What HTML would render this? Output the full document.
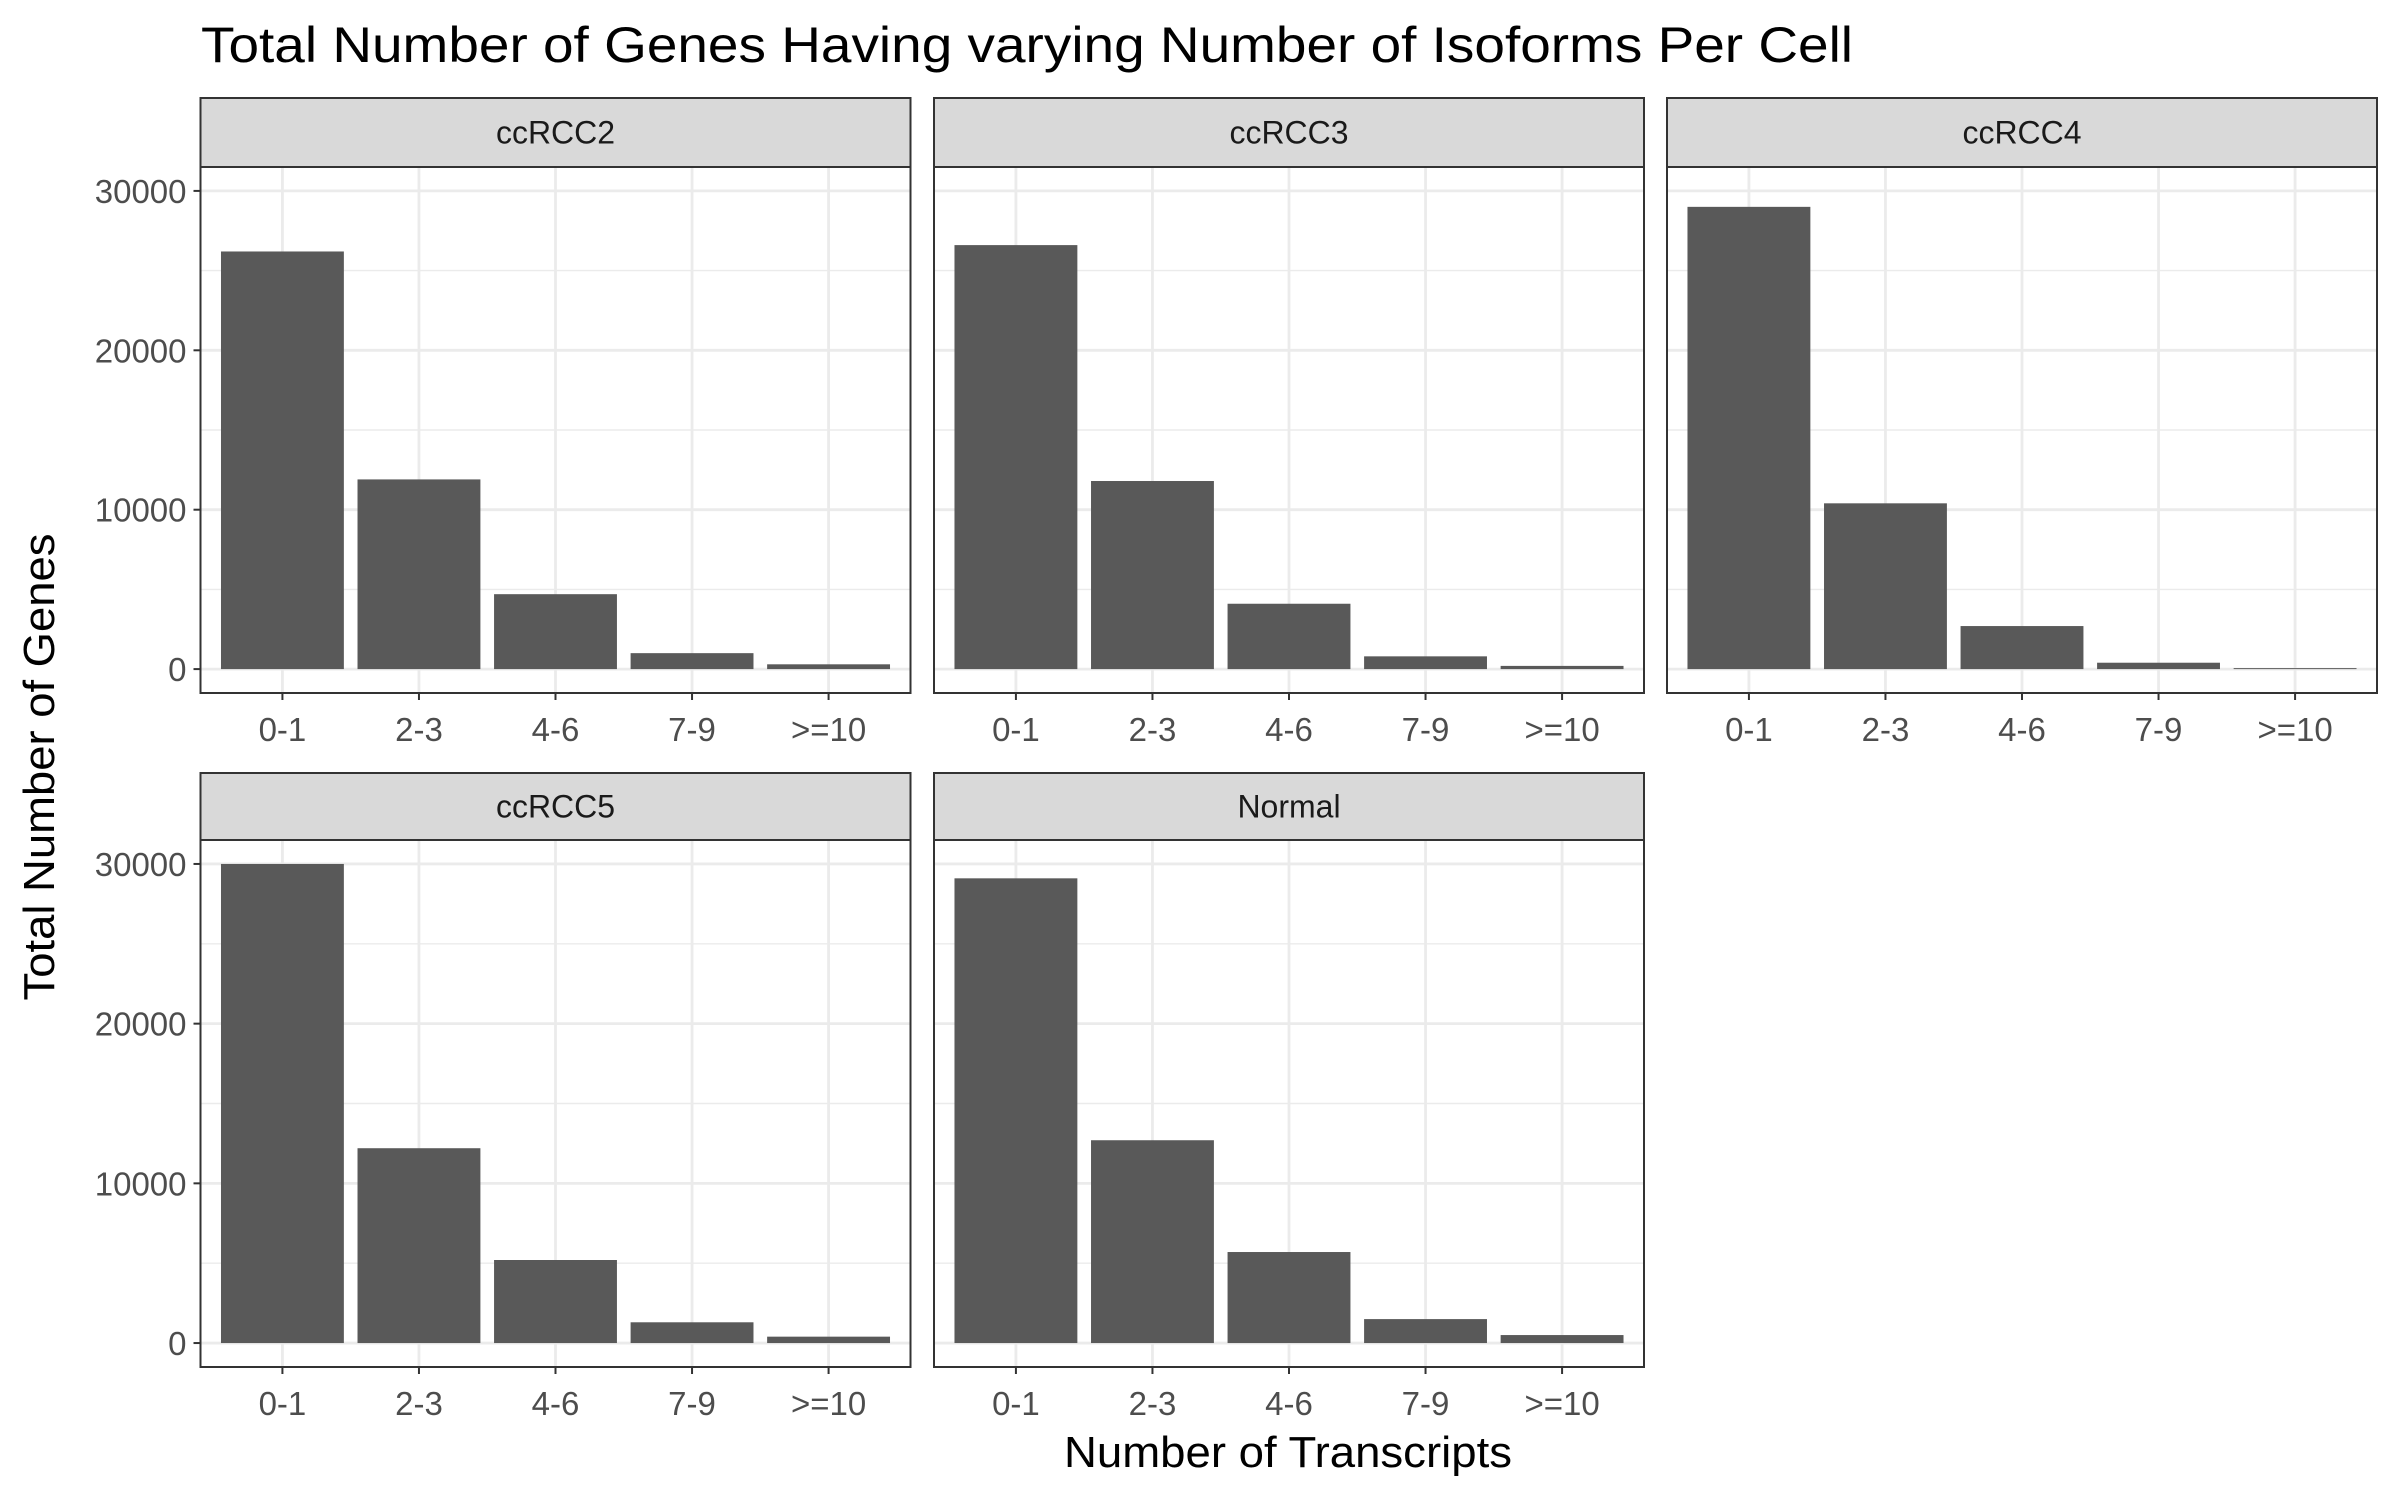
<!DOCTYPE html>
<html><head><meta charset="utf-8"><style>
html,body{margin:0;padding:0;background:#fff;}
svg{display:block;font-family:"Liberation Sans",Arial,sans-serif;}
</style></head><body>
<svg id="chart" width="2400" height="1500" viewBox="0 0 2400 1500" xmlns="http://www.w3.org/2000/svg">
<rect x="0" y="0" width="2400" height="1500" fill="#fff"/>
<text x="201" y="62" font-size="50" fill="#000" textLength="1652" lengthAdjust="spacingAndGlyphs">Total Number of Genes Having varying Number of Isoforms Per Cell</text>
<text transform="translate(54,767) rotate(-90)" text-anchor="middle" font-size="44" fill="#000" textLength="467" lengthAdjust="spacingAndGlyphs">Total Number of Genes</text>
<text x="1288" y="1467" text-anchor="middle" font-size="44" fill="#000" textLength="448" lengthAdjust="spacingAndGlyphs">Number of Transcripts</text>
<g id="panels"></g>
</svg>
<script>
const categories = ["0-1","2-3","4-6","7-9",">=10"];
const facetNames = ["ccRCC2","ccRCC3","ccRCC4","ccRCC5","Normal"];
const ccRCC2 = [26200, 11900, 4700, 1000, 300];
const ccRCC3 = [26600, 11800, 4100, 800, 200];
const ccRCC4 = [29000, 10400, 2700, 400, 60];
const ccRCC5 = [30000, 12200, 5200, 1300, 400];
const Normal = [29100, 12700, 5700, 1500, 500];
const yTicks = [0, 10000, 20000, 30000];
const yMinor = [5000, 15000, 25000];

const seriesList = [ccRCC2, ccRCC3, ccRCC4, ccRCC5, Normal];
const NS = "http://www.w3.org/2000/svg";
const root = document.getElementById("panels");
const colX = [200.5, 934, 1667];
const panelW = 710;
const rows = [{stripTop:98, top:167, bottom:693}, {stripTop:773, top:840, bottom:1367}];
const yMax = Math.max(...seriesList.flat());
const yLo = -0.05*yMax, yHi = 1.05*yMax;

function mk(tag, attrs, parent){const e=document.createElementNS(NS,tag);for(const k in attrs)e.setAttribute(k,attrs[k]);parent.appendChild(e);return e;}

facetNames.forEach((name, i) => {
  const data = seriesList[i];
  const r = rows[Math.floor(i/3)];
  const x0 = colX[i%3], x1 = x0 + panelW;
  const g = mk("g", {}, root);
  
  
  const yS = v => r.bottom - (v - yLo)/(yHi - yLo)*(r.bottom - r.top);
  const band = panelW/(categories.length + 0.2);
  const xS = k => x0 + band*(0.6 + k);
  yMinor.forEach(v => mk("line",{x1:x0,x2:x1,y1:yS(v),y2:yS(v),stroke:"#ebebeb","stroke-width":1.4},g));
  yTicks.forEach(v => mk("line",{x1:x0,x2:x1,y1:yS(v),y2:yS(v),stroke:"#ebebeb","stroke-width":2.8},g));
  categories.forEach((c,k) => mk("line",{x1:xS(k),x2:xS(k),y1:r.top,y2:r.bottom,stroke:"#ebebeb","stroke-width":2.8},g));
  data.forEach((v,k) => {
    const b = mk("rect",{x:xS(k)-band*0.45,y:yS(v),width:band*0.9,height:yS(0)-yS(v),fill:"#595959"},g);
    
    
  });
  mk("rect",{x:x0,y:r.top,width:panelW,height:r.bottom-r.top,fill:"none",stroke:"#333","stroke-width":2},g);
  const s = mk("rect",{x:x0,y:r.stripTop,width:panelW,height:r.top-r.stripTop,fill:"#d9d9d9",stroke:"#333","stroke-width":2},g);
  
  
  const st = mk("text",{x:x0+panelW/2,y:(r.stripTop+r.top)/2+11,"text-anchor":"middle","font-size":32,fill:"#1a1a1a"},g);
  st.textContent = name;
  
  
  categories.forEach((c,k) => {
    mk("line",{x1:xS(k),x2:xS(k),y1:r.bottom,y2:r.bottom+7,stroke:"#333","stroke-width":2},g);
    const t = mk("text",{x:xS(k),y:r.bottom+48,"text-anchor":"middle","font-size":33,fill:"#4d4d4d"},g);
    t.textContent = c;
    
    
  });
  if (i%3 === 0) {
    yTicks.forEach(v => {
      mk("line",{x1:x0-7,x2:x0,y1:yS(v),y2:yS(v),stroke:"#333","stroke-width":2},g);
      const t = mk("text",{x:x0-14,y:yS(v)+12,"text-anchor":"end","font-size":33,fill:"#4d4d4d"},g);
      t.textContent = String(v);
      
      
    });
  }
});
</script>
</body></html>
